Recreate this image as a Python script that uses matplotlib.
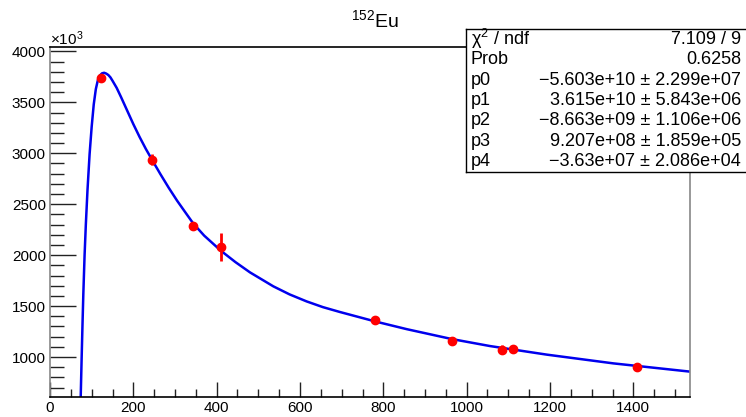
import matplotlib
matplotlib.use("Agg")
import matplotlib.pyplot as plt
import numpy as np

plt.rcParams['font.family'] = ['Liberation Sans', 'DejaVu Sans']
plt.rcParams['mathtext.fontset'] = 'custom'
plt.rcParams['mathtext.rm'] = 'Liberation Sans'
plt.rcParams['mathtext.it'] = 'Liberation Sans:italic'

# 152Eu lines (keV) and measured values (x10^3)
energy = [121.8, 244.7, 344.3, 411.1, 778.9, 964.1, 1085.8, 1112.1, 1408.0]
value = [3739, 2937, 2289, 2080, 1359, 1153, 1072, 1078, 902]
err = [15, 55, 18, 135, 15, 15, 45, 15, 15]

# fit curve
fit_x = [72, 74, 76, 78, 80, 83, 86, 90, 95, 100, 105, 110, 115, 120, 125, 130, 135,
         140, 145, 150, 160, 170, 185, 200, 215, 230, 246, 265, 285, 305, 325, 344,
         370, 410, 445, 480, 536, 575, 616, 655, 696, 780, 856, 964, 1056, 1192, 1352, 1536]
fit_y = [300, 660, 1000, 1320, 1620, 2000, 2300, 2640, 2990, 3260, 3480, 3630, 3720,
         3765, 3785, 3790, 3782, 3768, 3745, 3712, 3642, 3556, 3421, 3286, 3160, 3043,
         2928, 2795, 2661, 2535, 2419, 2310, 2192, 2044, 1932, 1831, 1694, 1615, 1546,
         1490, 1442, 1350, 1274, 1177, 1108, 1024, 938, 857]

stats_names = ['χ$^{2}$ / ndf', 'Prob', 'p0', 'p1', 'p2', 'p3', 'p4']
stats_vals = ['7.109 / 9', '0.6258',
              '−5.603e+10 ± 2.299e+07',
              '3.615e+10 ± 5.843e+06',
              '−8.663e+09 ± 1.106e+06',
              '9.207e+08 ± 1.859e+05',
              '−3.63e+07 ± 2.086e+04']

W, H = 746, 417
fig = plt.figure(figsize=(W / 100, H / 100), dpi=100)
ax = fig.add_axes([50 / W, (H - 397) / H, 640 / W, 350 / H])

ax.plot(fit_x, fit_y, color='#0000ee', lw=1.8, zorder=2, solid_joinstyle='round')
ax.errorbar(energy, value, yerr=err, fmt='o', color='#ff0000', ms=6,
            elinewidth=2, capsize=0, zorder=3)

ax.set_xlim(0, 1536)
ax.set_ylim(608, 4043)
ax.set_xticks(np.arange(0, 1537, 200))
ax.set_xticks(np.arange(0, 1537, 50), minor=True)
ax.set_yticks(np.arange(1000, 4001, 500))
ax.set_yticks(np.arange(700, 4043, 100), minor=True)
ax.tick_params(axis='x', which='major', direction='in', length=10.5, width=1, labelsize=11, pad=3)
ax.tick_params(axis='x', which='minor', direction='in', length=5.5, width=1)
ax.tick_params(axis='y', which='major', direction='in', length=19, width=1, labelsize=11, pad=3)
ax.tick_params(axis='y', which='minor', direction='in', length=10, width=1)
ax.tick_params(colors='#222222', which='both')
ax.tick_params(labelcolor='black')
for s in ['top', 'bottom']:
    ax.spines[s].set_color('black')
for s in ['left', 'right']:
    ax.spines[s].set_color('#888888')
for s in ax.spines.values():
    s.set_linewidth(1.2)

fig.text(50 / W, (H - 45) / H, '×10$^{3}$', fontsize=11, ha='left', va='baseline')
fig.text(375 / W, (H - 27) / H, '$^{152}$Eu', fontsize=14, ha='center', va='baseline')

# stats box
box = fig.add_axes([466 / W, (H - 172) / H, 290 / W, 143 / H])
box.set_xticks([])
box.set_yticks([])
box.set_xlim(0, 290)
box.set_ylim(143, 0)
for s in box.spines.values():
    s.set_color('black')
    s.set_linewidth(1.0)
row_h = 143 / len(stats_names)
for i, (n, v) in enumerate(zip(stats_names, stats_vals)):
    yy = row_h * (i + 0.5)
    box.text(5, yy, n, fontsize=13, ha='left', va='center')
    box.text(275, yy, v, fontsize=13, ha='right', va='center')

fig.savefig('out.png', dpi=100)
